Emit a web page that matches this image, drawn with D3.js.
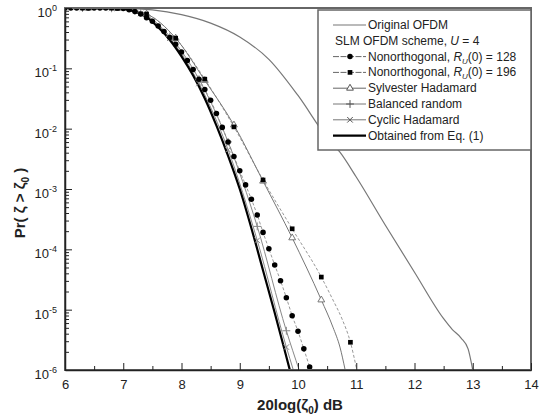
<!DOCTYPE html>
<html>
<head>
<meta charset="utf-8">
<title>SLM OFDM CCDF</title>
<script src="https://cdn.jsdelivr.net/npm/d3@7"></script>
<style>
body { margin: 0; background: #fff; }
svg text { font-family: Arial, "Liberation Sans", sans-serif; fill: #222; }
</style>
</head>
<body>
<div id="chart"></div>
<script>
// ---- data (x in dB, Pr(zeta > zeta0)) ----
var origX = [6.0, 7.0, 7.5, 8.0, 8.5, 9.0, 9.5, 10.0, 10.5, 10.72, 11.0, 11.5, 12.0, 12.5, 12.65, 12.8, 12.92, 13.0];
var origP = [1, 0.989, 0.933, 0.776, 0.562, 0.331, 0.141, 0.0355, 0.00708, 0.00407, 0.00158, 2.51e-4, 4.17e-5, 7.08e-6, 4.68e-6, 3.39e-6, 2.24e-6, 1e-6];

var no128X = [6.0, 6.1, 6.2, 6.3, 6.4, 6.5, 6.6, 6.7, 6.8, 6.9, 7.0, 7.1, 7.2, 7.3, 7.4, 7.5, 7.6, 7.7, 7.8, 7.9,
              8.0, 8.1, 8.2, 8.3, 8.4, 8.5, 8.6, 8.7, 8.8, 8.9, 9.0, 9.1, 9.2, 9.3, 9.4, 9.5, 9.6, 9.7, 9.8, 9.9,
              10.0, 10.1, 10.2];
var no128P = [1, 1, 1, 1, 1, 1, 1, 1, 1, 1, 0.977, 0.933, 0.871, 0.794, 0.692, 0.603, 0.501, 0.407, 0.324, 0.251,
              0.186, 0.135, 0.0955, 0.0661, 0.0447, 0.0295, 0.0178, 0.0105, 0.00603, 0.00347, 0.00200, 0.00117,
              6.76e-4, 3.72e-4, 1.91e-4, 1.02e-4, 5.50e-5, 3.02e-5, 1.58e-5, 7.94e-6, 4.37e-6, 2.24e-6, 1.12e-6];

var no196X = [6.0, 6.4, 6.9, 7.4, 7.9, 8.4, 8.9, 9.4, 9.9, 10.4, 10.6, 10.75, 10.9, 11.01];
var no196P = [1, 1, 0.989, 0.794, 0.316, 0.0661, 0.0107, 0.00141, 2.19e-4, 3.47e-5, 1.45e-5, 7.24e-6, 2.88e-6, 1e-6];
var no196Marks = [6.4, 6.9, 7.4, 7.9, 8.4, 8.9, 9.4, 9.9, 10.4, 10.9];

var sylvX = [6.0, 6.4, 6.9, 7.4, 7.9, 8.4, 8.9, 9.4, 9.9, 10.4, 10.6, 10.72, 10.81];
var sylvP = [1, 1, 0.989, 0.794, 0.316, 0.0631, 0.0115, 0.00135, 1.55e-4, 1.45e-5, 5.13e-6, 2.40e-6, 1e-6];
var sylvMarks = [6.4, 6.9, 7.4, 7.9, 8.4, 8.9, 9.4, 9.9, 10.4];

var balX = [6.0, 6.3, 6.8, 7.3, 7.8, 8.3, 8.8, 9.3, 9.8, 10.02];
var balP = [1, 1, 0.989, 0.832, 0.339, 0.0661, 0.00603, 2.40e-4, 4.47e-6, 1e-6];
var balMarks = [6.3, 6.8, 7.3, 7.8, 8.3, 8.8, 9.3, 9.8];

var cycX = [6.0, 6.3, 6.8, 7.3, 7.8, 8.3, 8.8, 9.3, 9.8, 9.92];
var cycP = [1, 1, 0.989, 0.813, 0.316, 0.0562, 0.00447, 1.41e-4, 2.40e-6, 1e-6];
var cycMarks = [6.3, 6.8, 7.3, 7.8, 8.3, 8.8, 9.3, 9.8];

var eqX = [6.0, 6.8, 7.0, 7.2, 7.4, 7.6, 7.8, 8.0, 8.2, 8.4, 8.6, 8.8, 9.0, 9.2, 9.4, 9.6, 9.8, 9.86];
var eqP = [1, 0.989, 0.966, 0.871, 0.708, 0.479, 0.295, 0.158, 0.0759, 0.0316, 0.0112, 0.00355, 0.001,
           2.24e-4, 4.47e-5, 8.91e-6, 1.66e-6, 1e-6];

var xTicks = [6, 7, 8, 9, 10, 11, 12, 13, 14];
var xMinor = [6.5, 7.5, 8.5, 9.5, 10.5, 11.5, 12.5, 13.5];
var yTicks = [1, 1e-1, 1e-2, 1e-3, 1e-4, 1e-5, 1e-6];
var yTickExp = ["0", "-1", "-2", "-3", "-4", "-5", "-6"];

var W = 549, H = 417;
var margin = {top: 8, right: 18, bottom: 47, left: 65};

var svg = d3.select("#chart").append("svg")
    .attr("width", W).attr("height", H);

var x = d3.scaleLinear().domain([6, 14]).range([margin.left, W - margin.right]);
var y = d3.scaleLog().domain([1e-6, 1]).range([H - margin.bottom, margin.top]);

svg.append("clipPath").attr("id", "plotclip")
  .append("rect")
    .attr("x", x(6)).attr("y", y(1))
    .attr("width", x(14) - x(6)).attr("height", y(1e-6) - y(1));

function pts(xs, ps) { return xs.map(function(v, i) { return [v, ps[i]]; }); }
function markPts(xs, ps, marks) {
  return marks.map(function(m) { return [m, ps[xs.indexOf(m)]]; });
}

var line = d3.line()
    .x(function(d) { return x(d[0]); })
    .y(function(d) { return y(d[1]); })
    .curve(d3.curveMonotoneX);

var plot = svg.append("g").attr("clip-path", "url(#plotclip)");

// lines
plot.append("path").datum(pts(origX, origP)).attr("d", line)
    .attr("fill", "none").attr("stroke", "#777").attr("stroke-width", 1.2);
plot.append("path").datum(pts(no196X, no196P)).attr("d", line)
    .attr("fill", "none").attr("stroke", "#999").attr("stroke-width", 1).attr("stroke-dasharray", "3,2");
plot.append("path").datum(pts(sylvX, sylvP)).attr("d", line)
    .attr("fill", "none").attr("stroke", "#777").attr("stroke-width", 1);
plot.append("path").datum(pts(no128X, no128P)).attr("d", line)
    .attr("fill", "none").attr("stroke", "#999").attr("stroke-width", 1).attr("stroke-dasharray", "3,2");
plot.append("path").datum(pts(balX, balP)).attr("d", line)
    .attr("fill", "none").attr("stroke", "#888").attr("stroke-width", 1);
plot.append("path").datum(pts(cycX, cycP)).attr("d", line)
    .attr("fill", "none").attr("stroke", "#888").attr("stroke-width", 1);
plot.append("path").datum(pts(eqX, eqP)).attr("d", line)
    .attr("fill", "none").attr("stroke", "#000").attr("stroke-width", 2.2);

// marker shapes
var plusShape = d3.symbol().type(d3.symbolPlus || d3.symbolCross).size(22);
var timesShape = d3.symbol().type(d3.symbolTimes || d3.symbolX || d3.symbolCross).size(22);
var triShape = d3.symbol().type(d3.symbolTriangle).size(20);
var sqShape = d3.symbol().type(d3.symbolSquare).size(22);
var circShape = d3.symbol().type(d3.symbolCircle).size(24);

function drawMarks(data, shape, fill, stroke) {
  plot.append("g").selectAll("path").data(data).enter().append("path")
      .attr("d", shape)
      .attr("transform", function(d) { return "translate(" + x(d[0]) + "," + y(d[1]) + ")"; })
      .attr("fill", fill).attr("stroke", stroke).attr("stroke-width", 1);
}
drawMarks(markPts(balX, balP, balMarks), plusShape, "none", "#888");
drawMarks(markPts(cycX, cycP, cycMarks), timesShape, "none", "#888");
drawMarks(markPts(sylvX, sylvP, sylvMarks), triShape, "#fff", "#777");
drawMarks(markPts(no196X, no196P, no196Marks), sqShape, "#000", "none");
drawMarks(pts(no128X, no128P), circShape, "#000", "none");

// frame
svg.append("rect")
    .attr("x", x(6)).attr("y", y(1))
    .attr("width", x(14) - x(6)).attr("height", y(1e-6) - y(1))
    .attr("fill", "none").attr("stroke", "#666").attr("stroke-width", 2);

// x axis (ticks inward)
var xAxis = svg.append("g")
    .attr("transform", "translate(0," + y(1e-6) + ")")
    .call(d3.axisBottom(x).tickValues(xTicks).tickSizeInner(-7).tickSizeOuter(0).tickPadding(10)
      .tickFormat(d3.format("d")));
xAxis.select(".domain").attr("stroke", "#222").attr("stroke-width", 1.5);
xAxis.selectAll(".tick line").attr("stroke", "#222");
xAxis.selectAll("text").attr("font-size", 13).attr("fill", "#222");
svg.append("g")
    .attr("transform", "translate(0," + y(1e-6) + ")")
    .call(d3.axisBottom(x).tickValues(xMinor).tickSizeInner(-4).tickSizeOuter(0).tickFormat(""))
    .call(function(g) { g.select(".domain").remove(); g.selectAll("line").attr("stroke", "#222"); });

// y axis (ticks inward)
var yMinor = [];
yTicks.slice(1).forEach(function(t) { for (var k = 2; k <= 9; k++) yMinor.push(t * k); });
var yAxis = svg.append("g")
    .attr("transform", "translate(" + x(6) + ",0)")
    .call(d3.axisLeft(y).tickValues(yTicks).tickSizeInner(-7).tickSizeOuter(0).tickFormat(""));
yAxis.select(".domain").attr("stroke", "#222").attr("stroke-width", 1.5);
yAxis.selectAll(".tick line").attr("stroke", "#222");
svg.append("g")
    .attr("transform", "translate(" + x(6) + ",0)")
    .call(d3.axisLeft(y).tickValues(yMinor).tickSizeInner(-4).tickSizeOuter(0).tickFormat(""))
    .call(function(g) { g.select(".domain").remove(); g.selectAll("line").attr("stroke", "#222"); });

var ylab = svg.append("g").selectAll("text").data(yTicks).enter().append("text")
    .attr("x", x(6) - 8)
    .attr("y", function(d) { return y(d) + 9; })
    .attr("text-anchor", "end")
    .attr("font-size", 13);
ylab.append("tspan").text("10");
ylab.append("tspan").attr("dy", -6).attr("font-size", 9)
    .text(function(d, i) { return yTickExp[i]; });

// axis titles
var xt = svg.append("text")
    .attr("x", (x(6) + x(14)) / 2 + 2).attr("y", 410)
    .attr("text-anchor", "middle").attr("font-size", 15).attr("font-weight", "bold");
xt.append("tspan").text("20log(\u03B6");
xt.append("tspan").attr("font-size", 10).attr("dy", 4).text("0");
xt.append("tspan").attr("dy", -4).text(") dB");

var yt = svg.append("text")
    .attr("transform", "translate(25," + 203 + ") rotate(-90)")
    .attr("text-anchor", "middle").attr("font-size", 15).attr("font-weight", "bold");
yt.append("tspan").text("Pr( \u03B6 > \u03B6");
yt.append("tspan").attr("font-size", 10).attr("dy", 4).text("0");
yt.append("tspan").attr("dy", -4).text(" )");

// legend
var lg = svg.append("g");
lg.append("rect")
    .attr("x", 318).attr("y", 10).attr("width", x(14) - 318).attr("height", 140)
    .attr("fill", "#fff").attr("stroke", "#666").attr("stroke-width", 1.5);

var rowY = function(i) { return 25 + i * 15.8; };
var lx0 = 333, lx1 = 366, ltx = 368, lmx = 350;

function legLine(i, stroke, width, dash) {
  lg.append("line").attr("x1", lx0).attr("x2", lx1).attr("y1", rowY(i)).attr("y2", rowY(i))
    .attr("stroke", stroke).attr("stroke-width", width).attr("stroke-dasharray", dash || null);
}
function legMark(i, shape, fill, stroke) {
  lg.append("path").attr("d", shape)
    .attr("transform", "translate(" + lmx + "," + rowY(i) + ")")
    .attr("fill", fill).attr("stroke", stroke).attr("stroke-width", 1);
}
function legText(i, xpos) {
  return lg.append("text").attr("x", xpos || ltx).attr("y", rowY(i) + 4).attr("font-size", 12);
}

legLine(0, "#777", 1.2);
legText(0).text("Original OFDM");

var t1 = legText(1, 335);
t1.append("tspan").text("SLM OFDM scheme,  ");
t1.append("tspan").attr("font-style", "italic").text("U");
t1.append("tspan").text(" = 4");

legLine(2, "#666", 1, "6,1.5");
legMark(2, circShape, "#000", "none");
var t2 = legText(2);
t2.append("tspan").text("Nonorthogonal, ");
t2.append("tspan").attr("font-style", "italic").text("R");
t2.append("tspan").attr("font-style", "italic").attr("font-size", 8).attr("dy", 3).text("U");
t2.append("tspan").attr("dy", -3).text("(0) = 128");

legLine(3, "#666", 1, "6,1.5");
legMark(3, sqShape, "#000", "none");
var t3 = legText(3);
t3.append("tspan").text("Nonorthogonal, ");
t3.append("tspan").attr("font-style", "italic").text("R");
t3.append("tspan").attr("font-style", "italic").attr("font-size", 8).attr("dy", 3).text("U");
t3.append("tspan").attr("dy", -3).text("(0) = 196");

legLine(4, "#666", 1);
legMark(4, triShape, "#fff", "#555");
legText(4).text("Sylvester Hadamard");

legLine(5, "#777", 1);
legMark(5, plusShape, "none", "#555");
legText(5).text("Balanced random");

legLine(6, "#777", 1);
legMark(6, timesShape, "none", "#555");
legText(6).text("Cyclic Hadamard");

legLine(7, "#000", 2.2);
legText(7).text("Obtained from Eq. (1)");
</script>
</body>
</html>
